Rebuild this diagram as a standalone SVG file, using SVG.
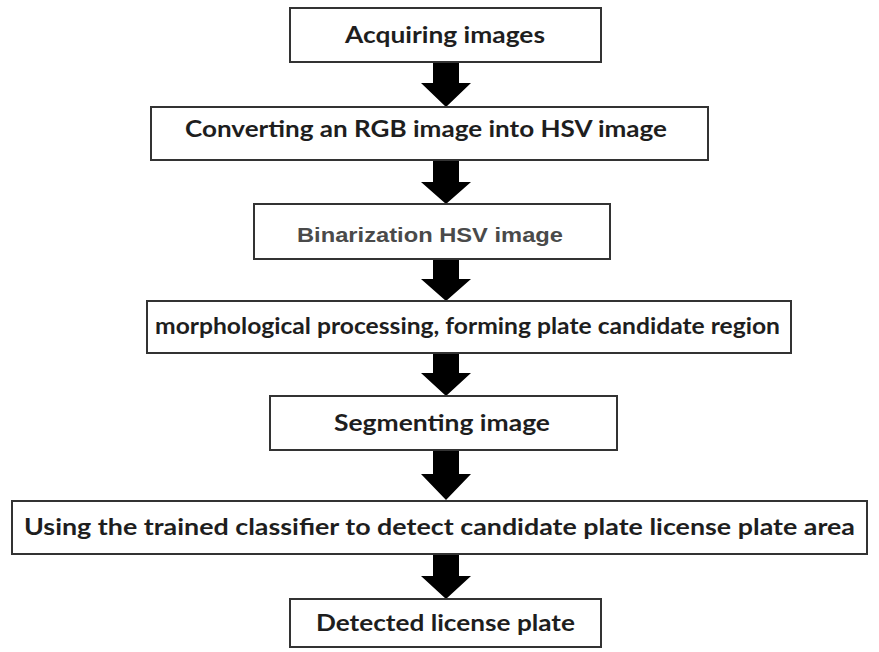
<svg xmlns="http://www.w3.org/2000/svg" width="879" height="652" viewBox="0 0 879 652">
  <style>
    .box { fill: #ffffff; stroke: #333333; stroke-width: 2; }
    .lbl { font-family: "Lato", "Open Sans", "Liberation Sans", sans-serif; font-weight: 700; fill: #1e1e1e; }
    .alt { font-family: "Liberation Sans", Arial, sans-serif; font-weight: 700; fill: #4a4a4a; }
    .arrow { fill: #000000; stroke: none; }
  </style>
  <rect width="879" height="652" fill="#ffffff"/>

  <!-- block arrows between the steps -->
  <g id="connectors">
    <polygon class="arrow" points="433,62 459,62 459,83 471,83 446,107 421,83 433,83"/>
    <polygon class="arrow" points="433,160 459,160 459,182 471,182 446,204 421,182 433,182"/>
    <polygon class="arrow" points="433,259 459,259 459,279 471,279 446,301 421,279 433,279"/>
    <polygon class="arrow" points="433,353 459,353 459,373 471,373 446,396 421,373 433,373"/>
    <polygon class="arrow" points="433,450 459,450 459,474 471,474 446,500 421,474 433,474"/>
    <polygon class="arrow" points="433,554 459,554 459,576 471,576 446,599 421,576 433,576"/>
  </g>

  <g id="acquire">
    <rect class="box" x="290" y="8" width="311" height="54"/>
    <text class="lbl" x="345" y="43" font-size="23" textLength="200" lengthAdjust="spacingAndGlyphs">Acquiring images</text>
  </g>

  <g id="convert">
    <rect class="box" x="151" y="107" width="557" height="53"/>
    <text class="lbl" x="185" y="137" font-size="22" textLength="482" lengthAdjust="spacingAndGlyphs">Converting an RGB image into HSV image</text>
  </g>

  <g id="binarize">
    <rect class="box" x="254" y="204" width="356" height="55"/>
    <text class="alt" x="297" y="242" font-size="20" textLength="266" lengthAdjust="spacingAndGlyphs">Binarization  HSV image</text>
  </g>

  <g id="morphology">
    <rect class="box" x="147" y="301" width="644" height="52"/>
    <text class="lbl" x="155" y="334" font-size="22" textLength="625" lengthAdjust="spacingAndGlyphs">morphological processing, forming plate candidate region</text>
  </g>

  <g id="segment">
    <rect class="box" x="270" y="396" width="347" height="54"/>
    <text class="lbl" x="334" y="431" font-size="22" textLength="216" lengthAdjust="spacingAndGlyphs">Segmenting image</text>
  </g>

  <g id="classify">
    <rect class="box" x="12" y="501" width="855" height="53"/>
    <text class="lbl" x="24" y="535" font-size="22" textLength="831" lengthAdjust="spacingAndGlyphs">Using the trained classifier to detect candidate plate license plate area</text>
  </g>

  <g id="detected">
    <rect class="box" x="290" y="599" width="311" height="48"/>
    <text class="lbl" x="316" y="631" font-size="22" textLength="259" lengthAdjust="spacingAndGlyphs">Detected license plate</text>
  </g>
</svg>
